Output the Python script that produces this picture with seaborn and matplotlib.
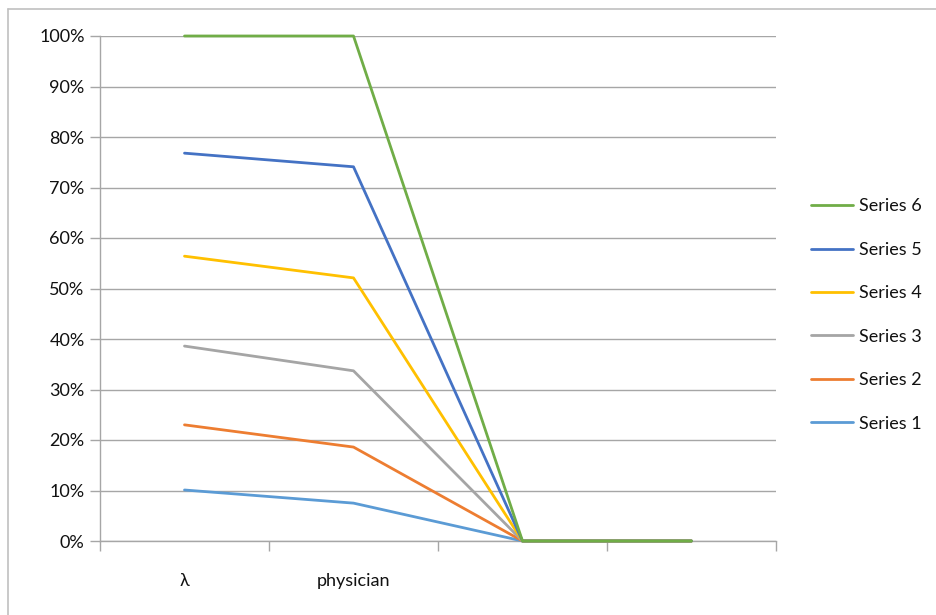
import numpy as np
import pandas as pd
import matplotlib
matplotlib.use("Agg")
import matplotlib.pyplot as plt
from matplotlib.lines import Line2D
import seaborn as sns

categories = ["λ", "physician", "", ""]
series_names = ["Series 1", "Series 2", "Series 3", "Series 4", "Series 5", "Series 6"]
# per-series shares (percent) stacked to 100%
s1 = [10.1, 7.5, 0, 0]
s2 = [12.9, 11.1, 0, 0]
s3 = [15.6, 15.1, 0, 0]
s4 = [17.8, 18.4, 0, 0]
s5 = [20.4, 22.0, 0, 0]
s6 = [23.2, 25.9, 0, 0]
colors = ["#5B9BD5", "#ED7D31", "#A5A5A5", "#FFC000", "#4472C4", "#70AD47"]
yticks = [0, 10, 20, 30, 40, 50, 60, 70, 80, 90, 100]

vals = np.array([s1, s2, s3, s4, s5, s6], dtype=float)
cum = np.cumsum(vals, axis=0)
rows = []
for i, name in enumerate(series_names):
    for j in range(len(categories)):
        rows.append({"series": name, "x": j, "y": cum[i, j]})
df = pd.DataFrame(rows)

sns.set_theme(style="white")
plt.rcParams["font.family"] = ["Lato", "DejaVu Sans"]

fig = plt.figure(figsize=(9.36, 6.15), dpi=100)
ax = fig.add_axes([100/936, 1-541/615, 676/936, 505/615])

sns.lineplot(data=df, x="x", y="y", hue="series", hue_order=series_names,
             palette=colors, linewidth=2.0, sort=False, ax=ax, legend=False,
             zorder=3)
for ln in ax.get_lines():
    ln.set_clip_on(False)

ax.set_xlim(-0.5, len(categories) - 0.5)
ax.set_ylim(0, 100)
ax.set_yticks(yticks)
ax.set_yticklabels([f"{t}%" for t in yticks])
ax.grid(axis="y", color="#a6a6a6", linewidth=1.0, zorder=0)
ax.set_axisbelow(True)

# category boundaries ticks
ax.set_xticks(np.arange(-0.5, len(categories), 1.0))
ax.set_xticklabels([])
ax.set_xticks(np.arange(len(categories)), minor=True)
ax.set_xticklabels(categories, minor=True)
ax.tick_params(axis="x", which="major", direction="out", length=7, width=1,
               color="#a6a6a6", bottom=True)
ax.tick_params(axis="x", which="minor", length=0, pad=23, labelsize=13,
               labelcolor="#111111")
ax.tick_params(axis="y", direction="out", length=7, width=1, color="#a6a6a6",
               left=True, labelsize=13, labelcolor="#111111", pad=4)
ax.set_xlabel("")
ax.set_ylabel("")
for side in ["top", "right"]:
    ax.spines[side].set_visible(False)
for side in ["left", "bottom"]:
    ax.spines[side].set_color("#a6a6a6")
    ax.spines[side].set_linewidth(1.0)

handles = [Line2D([], [], color=c, linewidth=2.0) for c in colors]
leg = ax.legend(handles[::-1], series_names[::-1], loc="center left",
                bbox_to_anchor=(795/936, 1-315/615), bbox_transform=fig.transFigure,
                frameon=False, handlelength=2.33, handletextpad=0.3,
                labelspacing=1.52, fontsize=13)
for t in leg.get_texts():
    t.set_color("#111111")

# chart area border (left and top edges visible)
fig.add_artist(Line2D([8/936, 8/936], [0, 1-9/615], transform=fig.transFigure,
                      color="#c0c0c0", linewidth=1.2))
fig.add_artist(Line2D([8/936, 1], [1-9/615, 1-9/615], transform=fig.transFigure,
                      color="#c0c0c0", linewidth=1.2))

fig.savefig("out.png", dpi=100)
